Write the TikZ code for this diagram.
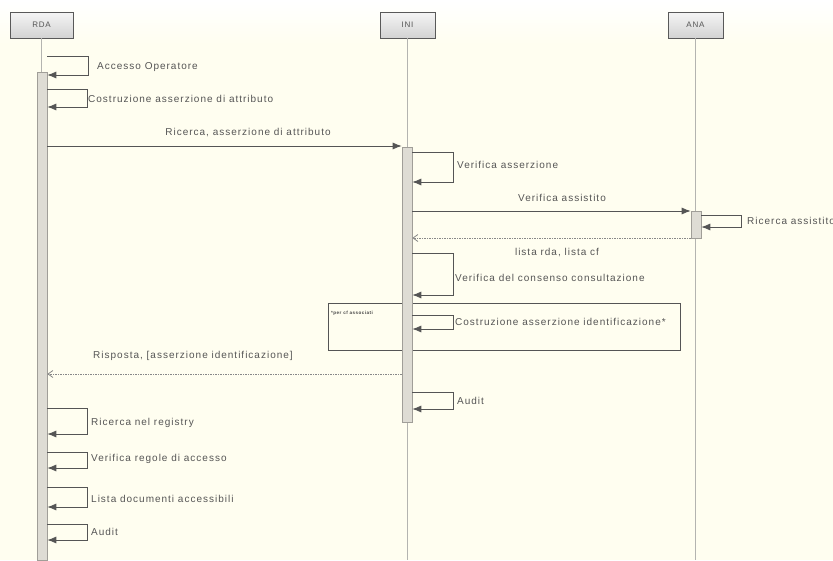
\documentclass[tikz,border=0pt]{standalone}
\usepackage{fontspec}
\setmainfont{Liberation Sans}[LetterSpace=10]
\usetikzlibrary{arrows.meta}
\definecolor{paper}{HTML}{FFFEF0}
\definecolor{ink}{HTML}{555555}
\definecolor{wire}{HTML}{555555}
\definecolor{lifegray}{HTML}{B4B4B0}
\definecolor{barfill}{HTML}{DEDCD4}
\definecolor{barline}{HTML}{A09E98}
\tikzset{
  head/.style={draw=gray!70!black, top color=gray!8, bottom color=gray!35,
    minimum height=26pt, inner sep=0pt, font=\fontsize{8}{9}\selectfont, text=ink},
  lifeline/.style={draw=lifegray, line width=0.9pt},
  actbar/.style={draw=barline, fill=barfill, minimum width=10pt, inner sep=0pt, line width=0.6pt},
  msg/.style={draw=wire, line width=0.8pt, -{Latex[length=9pt,width=7pt]}},
  reply/.style={draw=wire!70, line width=0.8pt, dash pattern=on 1.5pt off 1pt,
    -{Straight Barb[length=5pt,width=7pt]}},
  lbl/.style={font=\fontsize{10}{12}\selectfont, text=ink, inner sep=0pt},
  frag/.style={draw=wire, line width=0.7pt, inner sep=0pt},
}
\begin{document}
\begin{tikzpicture}[x=1pt,y=-1pt]
  \useasboundingbox (0,0) rectangle (833,560);
  \clip (0,0) rectangle (833,560);
  \fill[paper] (0,0) rectangle (833,560);
  \shade[top color=white, bottom color=paper] (0,0) rectangle (833,44);

  % participants
  \node[head, minimum width=63pt] (rda) at (41.5,25) {RDA};
  \node[head, minimum width=55pt] (ini) at (407.5,25) {INI};
  \node[head, minimum width=55pt] (ana) at (695.5,25) {ANA};

  % lifelines
  \coordinate (rdaend) at (42,560);
  \coordinate (iniend) at (407,560);
  \coordinate (anaend) at (696,560);
  \draw[lifeline] (rda.south) -- (rda.south |- rdaend);
  \draw[lifeline] (ini.south) -- (ini.south |- iniend);
  \draw[lifeline] (ana.south) -- (ana.south |- anaend);

  % combined fragment
  \node[frag, minimum width=352pt, minimum height=47pt] (loopfrag) at (504,326.5) {};
  \node[anchor=west, inner sep=0pt, text=ink!80!black, font=\fontsize{4.6}{5}\selectfont\bfseries]
    (fraglbl) at (331,313) {*per cf associati};

  % activation bars
  \node[actbar, minimum height=488pt] (rdabar) at (42,316) {};
  \node[actbar, minimum height=275pt] (inibar) at (407,284.5) {};
  \node[actbar, minimum height=27pt] (anabar) at (696,224.5) {};

  % RDA self calls (top)
  \draw[msg] (rdabar.east |- 0,56) -- (88,56) -- (88,75) -- (rdabar.east |- 0,75);
  \node[lbl, anchor=west] (acc) at (97,67) {Accesso Operatore};
  \draw[msg] (rdabar.east |- 0,89) -- (87,89) -- (87,107) -- (rdabar.east |- 0,107);
  \node[lbl, anchor=west] (cos) at (88,99) {Costruzione asserzione di attributo};

  % RDA -> INI
  \draw[msg] (rdabar.east |- 0,146) -- (inibar.west |- 0,146);
  \node[lbl] (ric) at (248,133) {Ricerca, asserzione di attributo};

  % INI self call
  \draw[msg] (inibar.east |- 0,152) -- (453,152) -- (453,182) -- (inibar.east |- 0,182);
  \node[lbl, anchor=west] (vas) at (457,165) {Verifica asserzione};

  % INI -> ANA and reply
  \draw[msg] (inibar.east |- 0,211) -- (anabar.west |- 0,211);
  \node[lbl] (vai) at (562,198) {Verifica assistito};
  \draw[msg] (anabar.east |- 0,215) -- (741,215) -- (741,227) -- (anabar.east |- 0,227);
  \node[lbl, anchor=west] (rai) at (747,221) {Ricerca assistito};
  \draw[reply] (anabar.west |- 0,238) -- (inibar.east |- 0,238);
  \node[lbl] (lrc) at (557,253) {lista rda, lista cf};

  % INI self calls
  \draw[msg] (inibar.east |- 0,253) -- (453,253) -- (453,295) -- (inibar.east |- 0,295);
  \node[lbl, anchor=west] (vcc) at (455,278) {Verifica del consenso consultazione};
  \draw[msg] (inibar.east |- 0,315) -- (453,315) -- (453,329) -- (inibar.east |- 0,329);
  \node[lbl, anchor=west] (cai) at (455,322) {Costruzione asserzione identificazione*};

  % INI -> RDA reply
  \draw[reply] (inibar.west |- 0,374) -- (rdabar.east |- 0,374);
  \node[lbl] (ris) at (193,356) {Risposta, [asserzione identificazione]};

  \draw[msg] (inibar.east |- 0,392) -- (453,392) -- (453,409) -- (inibar.east |- 0,409);
  \node[lbl, anchor=west] (aud1) at (457,401) {Audit};

  % RDA self calls (bottom)
  \draw[msg] (rdabar.east |- 0,408) -- (87,408) -- (87,434) -- (rdabar.east |- 0,434);
  \node[lbl, anchor=west] (rnr) at (91,423) {Ricerca nel registry};
  \draw[msg] (rdabar.east |- 0,452) -- (87,452) -- (87,468) -- (rdabar.east |- 0,468);
  \node[lbl, anchor=west] (vra) at (91,459) {Verifica regole di accesso};
  \draw[msg] (rdabar.east |- 0,487) -- (87,487) -- (87,507) -- (rdabar.east |- 0,507);
  \node[lbl, anchor=west] (lda) at (91,499) {Lista documenti accessibili};
  \draw[msg] (rdabar.east |- 0,524) -- (87,524) -- (87,540) -- (rdabar.east |- 0,540);
  \node[lbl, anchor=west] (aud2) at (91,532) {Audit};
\end{tikzpicture}
\end{document}
